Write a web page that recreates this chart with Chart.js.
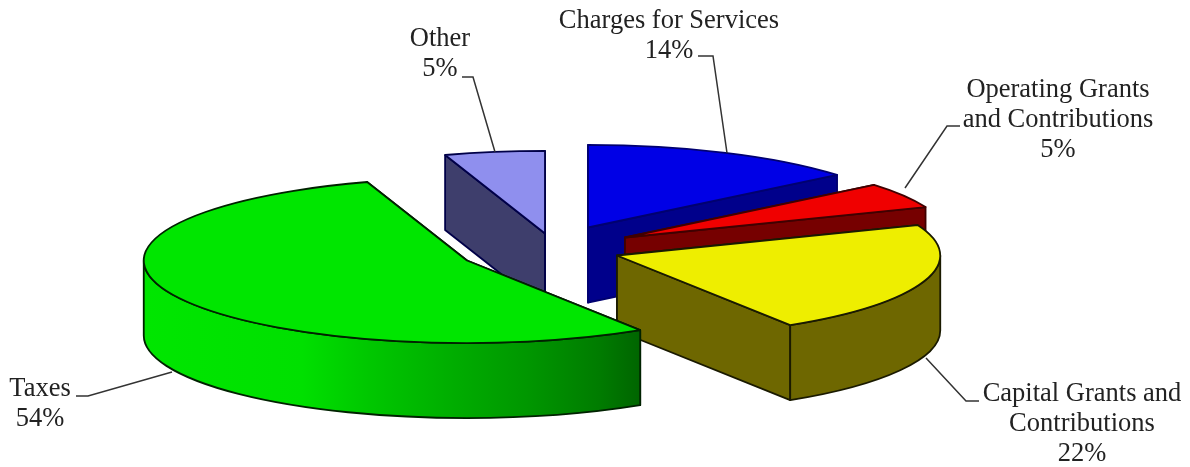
<!DOCTYPE html>
<html>
<head>
<meta charset="utf-8">
<style>
  html, body { margin: 0; padding: 0; background: #fff; }
  canvas { display: block; }
</style>
<script src="https://cdn.jsdelivr.net/npm/chart.js"></script>
</head>
<body>
<canvas id="revenues" width="1190" height="467"></canvas>
<script>
// Revenue sources, clockwise from twelve o'clock
var categories = ["Charges for Services", "Operating Grants and Contributions", "Capital Grants and Contributions", "Taxes", "Other"]
var shares = [14, 5, 22, 54, 5]

// How the names wrap above their percentages
var labelLines = [
  ["Charges for Services"],
  ["Operating Grants", "and Contributions"],
  ["Capital Grants and", "Contributions"],
  ["Taxes"],
  ["Other"],
]

var topColors = ["#0000e6", "#f00000", "#eeee00", "#00e600", "#8f8fee"]
var wallColors = ["#00008b", "#760000", "#6e6700", "#00e600", "#3e3e6c"]
var edgeColors = ["#000070", "#400000", "#1a1a00", "#002200", "#000048"]

// Each wedge is pulled away from the pie centre by this much, in pixels
var explode = [[23, -23], [60, -13], [52, 5], [-98, 10], [-20, -17]]

// Painted back to front so the nearer wedges cover the farther ones
var paintOrder = [4, 0, 1, 2, 3]

var stretchX = 1.5
var squashY = 0.383
var depth = 75

// Label block centre and first baseline, then the leader line as x,y stops
var labelSpots = [
  { x: 669, y: 28, line: [[727, 153], [713, 56], [698, 56]] },
  { x: 1058, y: 97, line: [[905, 188], [947, 126], [960, 126]] },
  { x: 1082, y: 401, line: [[926, 358], [966, 401], [979, 401]] },
  { x: 40, y: 396, line: [[172, 372], [88, 396], [76, 396]] },
  { x: 440, y: 46, line: [[495, 152], [473, 77], [462, 77]] },
]

function edgePoint(c, angle) {
  return [c.x + c.rx * Math.cos(angle), c.y + c.ry * Math.sin(angle)]
}

// Flat cut face running from the wedge tip to the rim at the given angle
function drawCutFace(ctx, c, angle) {
  var p = edgePoint(c, angle)
  ctx.beginPath()
  ctx.moveTo(c.x, c.y)
  ctx.lineTo(p[0], p[1])
  ctx.lineTo(p[0], p[1] + depth)
  ctx.lineTo(c.x, c.y + depth)
  ctx.closePath()
  ctx.fill()
  ctx.stroke()
}

function drawWedge(chart, ctx, arc, i) {
  var c = {
    x: arc.x + explode[i][0],
    y: arc.y + explode[i][1],
    rx: arc.outerRadius * stretchX,
    ry: arc.outerRadius * squashY,
  }
  ctx.lineWidth = 1.8
  ctx.lineJoin = "round"
  ctx.strokeStyle = edgeColors[i]
  ctx.fillStyle = wallColors[i]

  drawCutFace(ctx, c, arc.startAngle)
  drawCutFace(ctx, c, arc.endAngle)

  // Only the part of the rim that faces the viewer gets a wall
  var lo = Math.max(arc.startAngle, 0)
  var hi = Math.min(arc.endAngle, Math.PI)
  if (lo < hi) {
    if (categories[i] === "Taxes") {
      var shade = ctx.createLinearGradient(c.x - c.rx, 0, c.x + c.rx * 0.53, 0)
      shade.addColorStop(0, "#00e600")
      shade.addColorStop(0.32, "#00e000")
      shade.addColorStop(0.45, "#00c800")
      shade.addColorStop(0.62, "#00ae00")
      shade.addColorStop(0.78, "#009600")
      shade.addColorStop(0.92, "#007c00")
      shade.addColorStop(1, "#006600")
      ctx.fillStyle = shade
    }
    ctx.beginPath()
    ctx.ellipse(c.x, c.y, c.rx, c.ry, 0, lo, hi)
    ctx.ellipse(c.x, c.y + depth, c.rx, c.ry, 0, hi, lo, true)
    ctx.closePath()
    ctx.fill()
    ctx.stroke()
  }

  ctx.fillStyle = topColors[i]
  ctx.beginPath()
  ctx.moveTo(c.x, c.y)
  ctx.ellipse(c.x, c.y, c.rx, c.ry, 0, arc.startAngle, arc.endAngle)
  ctx.closePath()
  ctx.fill()
  ctx.stroke()
}

// The arcs keep their angles and radius from the pie controller, this only
// changes how they get painted
var tiltedPie = {
  id: "tiltedPie",
  beforeDatasetsDraw: function(chart) {
    var ctx = chart.ctx
    var arcs = chart.getDatasetMeta(0).data
    ctx.save()
    paintOrder.forEach(function(i) {
      drawWedge(chart, ctx, arcs[i], i)
    })
    ctx.restore()
    return false
  },
}

var calloutLabels = {
  id: "calloutLabels",
  afterDraw: function(chart) {
    var ctx = chart.ctx
    ctx.save()
    ctx.font = "26.5px 'Liberation Serif'"
    ctx.textAlign = "center"
    ctx.textBaseline = "alphabetic"
    ctx.fillStyle = "#222"
    ctx.strokeStyle = "#333"
    ctx.lineWidth = 1.5
    labelSpots.forEach(function(spot, i) {
      var lines = labelLines[i].concat(chart.data.datasets[0].data[i] + "%")
      lines.forEach(function(text, n) {
        ctx.fillText(text, spot.x, spot.y + n * 30)
      })
      ctx.beginPath()
      spot.line.forEach(function(p, n) {
        if (n === 0) ctx.moveTo(p[0], p[1])
        else ctx.lineTo(p[0], p[1])
      })
      ctx.stroke()
    })
    ctx.restore()
  },
}

new Chart(document.getElementById("revenues"), {
  type: "pie",
  data: {
    labels: categories,
    datasets: [{ data: shares, backgroundColor: topColors }],
  },
  options: {
    responsive: false,
    animation: false,
    layout: { padding: { left: 0, right: 60, top: 34, bottom: 0 } },
    plugins: {
      legend: { display: false },
      tooltip: { enabled: false },
    },
  },
  plugins: [tiltedPie, calloutLabels],
})
</script>
</body>
</html>
